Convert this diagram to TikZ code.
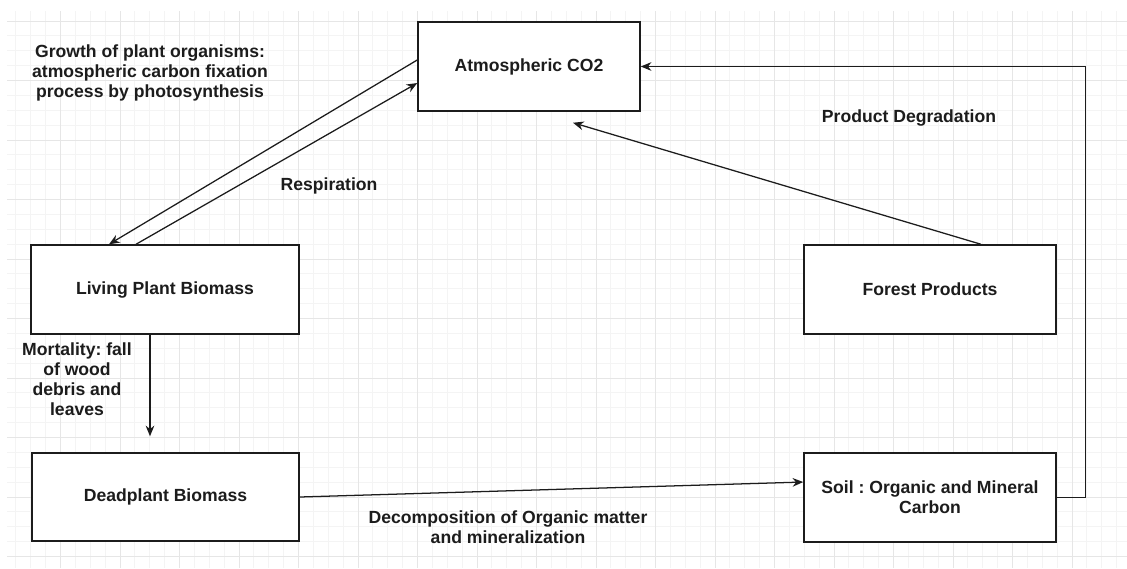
\documentclass[tikz,border=0pt]{standalone}
\usepackage{fontspec}
\setmainfont{Liberation Sans}
\usetikzlibrary{arrows.meta}
\definecolor{gridminor}{HTML}{F4F4F4}
\definecolor{gridmajor}{HTML}{E6E6E6}
\definecolor{ink}{HTML}{1C1C1C}
\frenchspacing

\begin{document}
\begin{tikzpicture}[x=0.75pt, y=-0.75pt,
		every node/.style={font=\bfseries\fontsize{13.2}{15}\selectfont, text=ink},
		box/.style={draw=ink, line width=1.1pt, fill=white, minimum height=66.75pt, inner sep=0pt},
		lbl/.style={align=center, inner sep=1pt},
		flow/.style={draw=ink, line width=0.95pt, -{Stealth[length=8pt, width=6.5pt]}}]
		\useasboundingbox[fill=white] (0,0) rectangle (1127,568);
		
		% background grid
		\begin{scope}
			\clip (7,11) rectangle (1127,568);
			\foreach \k in {0,...,75}
				\draw[gridminor, line width=0.6pt] (1+\k*14.875,0) -- (1+\k*14.875,568);
			\foreach \k in {0,...,38}
				\draw[gridminor, line width=0.6pt] (0,6.125+\k*14.875) -- (1127,6.125+\k*14.875);
			\foreach \k in {0,...,18}
				\draw[gridmajor, line width=0.6pt] (1+\k*59.5,0) -- (1+\k*59.5,568);
			\foreach \k in {0,...,9}
				\draw[gridmajor, line width=0.6pt] (0,21+\k*59.5) -- (1127,21+\k*59.5);
		\end{scope}
		
		\node[box, minimum width=166.5pt] (atm) at (529,66.5) {Atmospheric CO2};
		\node[box, minimum width=201pt] (living) at (165,289.5) {Living Plant Biomass};
		\node[box, minimum width=200.25pt, minimum height=66pt] (dead) at (165.5,497) {Deadplant Biomass};
		\node[box, minimum width=189pt] (forest) at (930,289.5) {Forest Products};
		\node[box, minimum width=189pt, align=center] (soil) at (930,497.5) {Soil : Organic and Mineral\\Carbon};
		
		\node[lbl] (growth) at (150,73) {Growth of plant organisms:\\atmospheric carbon fixation\\process by photosynthesis};
		\node[lbl] (resp) at (329,186) {Respiration};
		\node[lbl] (degr) at (909,118) {Product Degradation};
		\node[lbl] (mort) at (77,379) {Mortality: fall\\of wood\\debris and\\leaves};
		\node[lbl] (decomp) at (508,527) {Decomposition of Organic matter\\and mineralization};
		
		\draw[flow] ([yshift=4.9pt]atm.west) -- ([xshift=-42pt]living.north);
		\draw[flow] ([xshift=-21.75pt]living.north) -- ([yshift=-12.4pt]atm.west);
		\draw[flow] ([xshift=38.25pt]forest.north) -- ([xshift=33pt, yshift=-8.25pt]atm.south);
		\draw[flow] (soil.east) -- ++(29,0) |- (atm.east);
		\draw[flow, shorten >=12pt] ([xshift=-11.25pt]living.south) -- ([xshift=-11.25pt]living.south |- dead.north);
		\draw[flow] (dead.east) -- ([yshift=11.6pt]soil.west);
	\end{tikzpicture}
\end{document}
